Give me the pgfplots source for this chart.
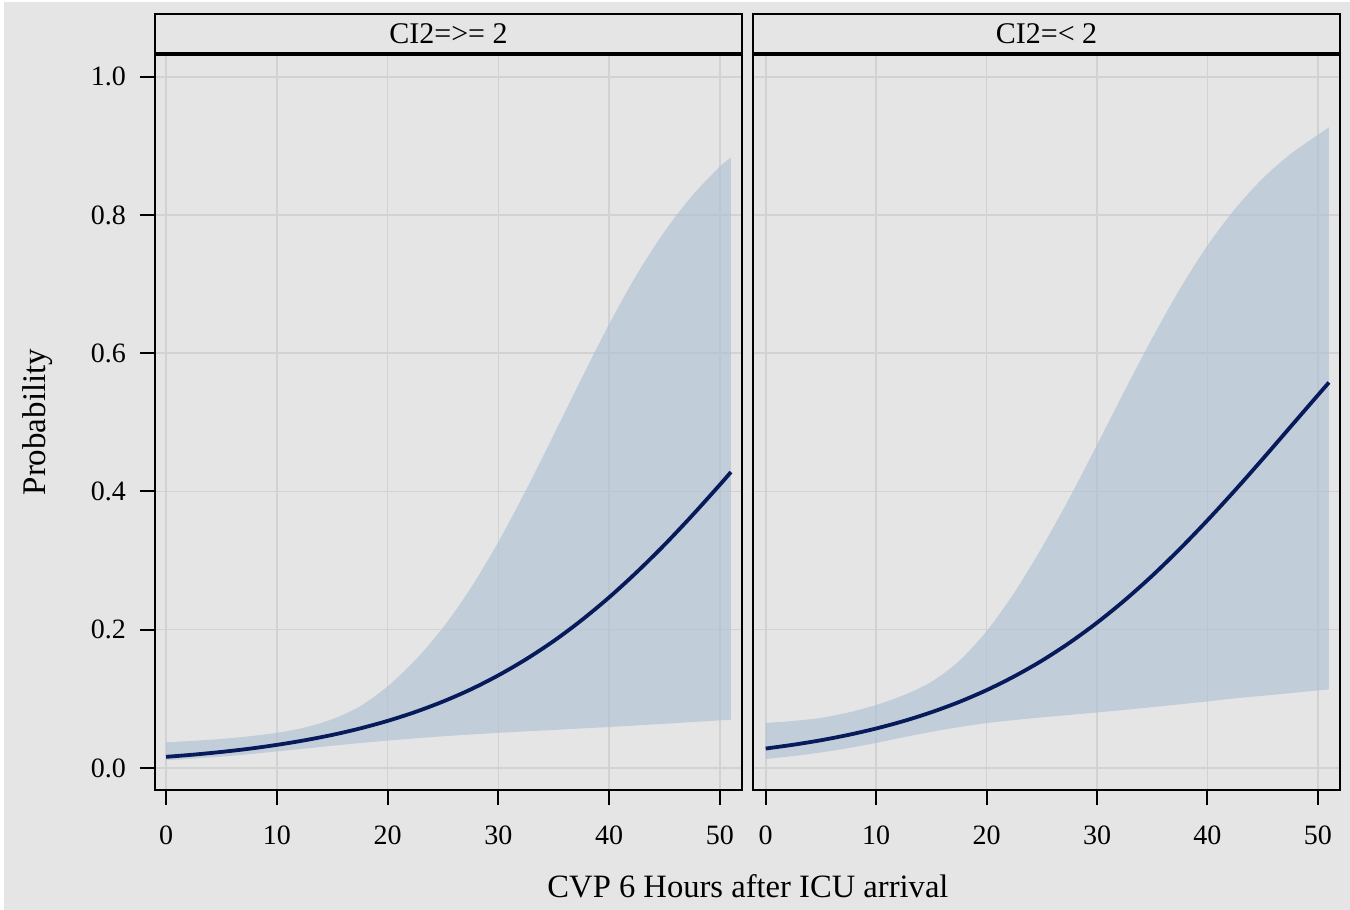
\documentclass[border=0pt]{standalone}
\usepackage{fontspec}
\setmainfont{Liberation Serif}
\usepackage{pgfplots}
\usepackage{pgfplotstable}
\pgfplotsset{compat=1.18}
\usepgfplotslibrary{fillbetween}
\usetikzlibrary{backgrounds}

\definecolor{bg}{HTML}{E5E5E5}
\definecolor{gridc}{HTML}{D2D2D2}
\definecolor{bandc}{HTML}{ACBDD4}
\definecolor{meanc}{HTML}{071A5A}

% CI2 >= 2
\pgfplotstableread{
x    lo     mean   up
0    0.0110 0.0160 0.0370
2.5  0.0134 0.0192 0.0392
5    0.0163 0.0231 0.0419
7.5  0.0198 0.0277 0.0457
10   0.0239 0.0333 0.0507
12.5 0.0279 0.0399 0.0584
15   0.0320 0.0477 0.0704
17.5 0.0359 0.0570 0.0890
20   0.0395 0.0680 0.1180
22.5 0.0427 0.0809 0.1560
25   0.0457 0.0960 0.2030
27.5 0.0483 0.1135 0.2600
30   0.0507 0.1339 0.3270
32.5 0.0529 0.1572 0.4020
35   0.0549 0.1836 0.4820
37.5 0.0571 0.2135 0.5630
40   0.0592 0.2467 0.6420
42.5 0.0615 0.2833 0.7140
45   0.0638 0.3228 0.7760
47.5 0.0663 0.3652 0.8280
50   0.0688 0.4097 0.8700
51   0.0698 0.4281 0.8830
}\hidata

% CI2 < 2
\pgfplotstableread{
x    lo     mean   up
0    0.0130 0.0280 0.0650
2.5  0.0171 0.0335 0.0679
5    0.0223 0.0400 0.0724
7.5  0.0287 0.0478 0.0802
10   0.0362 0.0570 0.0911
12.5 0.0444 0.0678 0.1053
15   0.0522 0.0805 0.1245
17.5 0.0590 0.0953 0.1545
20   0.0648 0.1125 0.1978
22.5 0.0692 0.1324 0.2535
25   0.0731 0.1551 0.3187
27.5 0.0766 0.1810 0.3906
30   0.0802 0.2101 0.4675
32.5 0.0839 0.2425 0.5460
35   0.0879 0.2781 0.6220
37.5 0.0920 0.3169 0.6930
40   0.0962 0.3583 0.7560
42.5 0.1006 0.4018 0.8090
45   0.1044 0.4470 0.8530
47.5 0.1081 0.4932 0.8880
50   0.1121 0.5394 0.9160
51   0.1135 0.5577 0.9270
}\lodata

\pgfplotsset{
  layers/with bg/.define layer set={
    background, axis background, axis grid, axis ticks, axis lines,
    axis tick labels, pre main, main, axis descriptions, axis foreground
  }{/pgfplots/layers/standard},
  set layers=with bg,
  panel/.style={
    scale only axis,
    width=293.5pt, height=368pt,
    ymin=-0.032, ymax=1.033,
    axis background/.style={fill=bg},
    xtick={0,10,20,30,40,50},
    ytick={0,0.2,0.4,0.6,0.8,1.0},
    grid=major,
    major grid style={gridc, line width=0.8pt},
    tick align=outside,
    major tick length=7.5pt,
    every tick/.style={black, line width=1pt},
    xtick pos=bottom, ytick pos=left,
    axis line style={black, line width=1.1pt},
    tick label style={font=\fontsize{14}{16}\selectfont},
    xticklabel style={yshift=-7pt},
    yticklabel style={xshift=-3.5pt},
    /pgf/number format/assume math mode=true,
    yticklabel style={/pgf/number format/.cd, fixed, fixed zerofill, precision=1},
  },
  band/.style={fill=bandc, fill opacity=0.6, draw=none},
  meanline/.style={meanc, line width=1.9pt, smooth},
}

\begin{document}
\begin{tikzpicture}
\begin{axis}[panel, name=left, at={(77.5pt,-27pt)}, anchor=north west,
  xmin=-1, xmax=52]
  \addplot[name path=up, draw=none, smooth, forget plot] table[x=x, y=up] {\hidata};
  \addplot[name path=lo, draw=none, smooth, forget plot] table[x=x, y=lo] {\hidata};
  \addplot[band] fill between[of=up and lo];
  \addplot[meanline] table[x=x, y=mean] {\hidata};
\end{axis}

\begin{axis}[panel, name=right, at={(376.5pt,-27pt)}, anchor=north west,
  xmin=-1.15, xmax=52, yticklabels={}, ytick style={draw=none}]
  \addplot[name path=up, draw=none, smooth, forget plot] table[x=x, y=up] {\lodata};
  \addplot[name path=lo, draw=none, smooth, forget plot] table[x=x, y=lo] {\lodata};
  \addplot[band] fill between[of=up and lo];
  \addplot[meanline] table[x=x, y=mean] {\lodata};
\end{axis}

% panel strips
\foreach \p/\t in {left/{CI2=>= 2}, right/{CI2=< 2}} {
  \draw[black, line width=1.1pt, fill=bg] (\p.north west) rectangle ([yshift=20pt]\p.north east);
  \draw[black, line width=2pt] (\p.north west) -- (\p.north east);
  \node[font=\fontsize{15}{17}\selectfont] at ([yshift=10pt]\p.north) {\t};
}

\node[rotate=90, font=\fontsize{16.5}{18}\selectfont] at (19pt,-211pt) {Probability};
\node[font=\fontsize{16.3}{18}\selectfont] at (374pt,-443pt) {CVP 6 Hours after ICU arrival};

\begin{scope}[on background layer]
  \fill[white] (0,0) rectangle (675pt,-455pt);
  \fill[bg] (2pt,-1pt) rectangle (675pt,-455pt);
\end{scope}

\pgfresetboundingbox
\useasboundingbox (0,0) rectangle (675pt,-455pt);
\end{tikzpicture}
\end{document}
